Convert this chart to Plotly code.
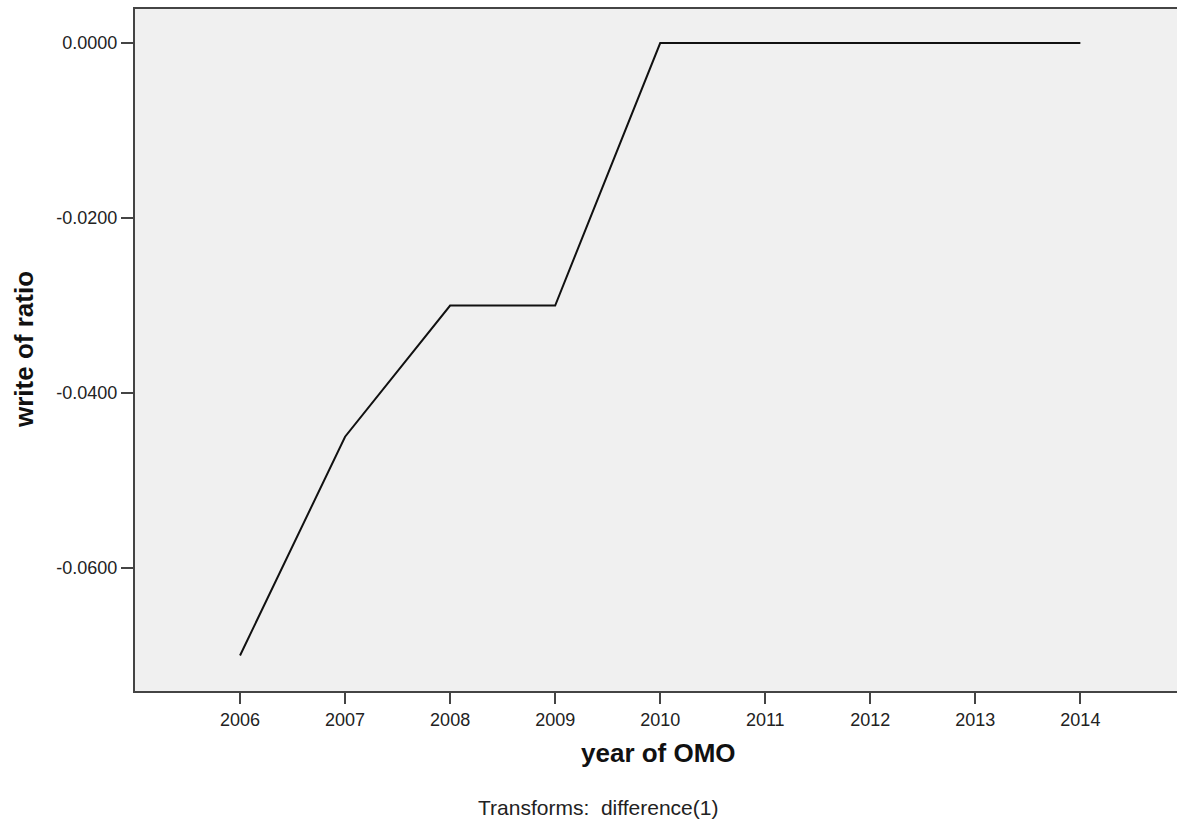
import plotly.graph_objects as go

# Differenced ratio series by year
years = [2006, 2007, 2008, 2009, 2010, 2011, 2012, 2013, 2014]
ratio_diff = [-0.0700, -0.0450, -0.0300, -0.0300, 0.0000, 0.0000, 0.0000, 0.0000, 0.0000]

y_tick_vals = [0.0, -0.02, -0.04, -0.06]
y_tick_text = ["0.0000", "-0.0200", "-0.0400", "-0.0600"]

W, H = 1177, 839
ML, MR, MT, MB = 135, 0, 9, 148
FONT = "Liberation Sans, Arial, sans-serif"

fig = go.Figure()
fig.add_trace(go.Scatter(
    x=years, y=ratio_diff, mode="lines",
    line=dict(color="#111111", width=2),
    hoverinfo="skip", showlegend=False,
))

plot_w = W - ML - MR
plot_h = H - MT - MB

fig.update_layout(
    width=W, height=H,
    margin=dict(l=ML, r=MR, t=MT, b=MB, pad=0),
    paper_bgcolor="white",
    plot_bgcolor="#F0F0F0",
    font=dict(family=FONT, color="#222222"),
    xaxis=dict(
        range=[2005, 2014.92],
        tickvals=years, ticktext=[str(y) for y in years],
        ticks="outside", ticklen=11, tickwidth=2, tickcolor="#444444",
        showline=True, linecolor="#444444", linewidth=2, mirror=True,
        showgrid=False, zeroline=False,
        tickfont=dict(size=18, family=FONT, color="#222222"),
    ),
    yaxis=dict(
        range=[-0.07406, 0.00389],
        tickvals=y_tick_vals, ticktext=y_tick_text,
        ticks="outside", ticklen=12, tickwidth=2, tickcolor="#444444",
        showline=True, linecolor="#444444", linewidth=2,
        showgrid=False, zeroline=False,
        tickfont=dict(size=18, family=FONT, color="#222222"),
    ),
    annotations=[
        dict(text="<b>year of OMO</b>", xref="paper", yref="paper",
             x=(658 - ML) / plot_w, y=-(753 - (MT + plot_h)) / plot_h,
             xanchor="center", yanchor="middle", showarrow=False,
             font=dict(size=26, family=FONT, color="#111111")),
        dict(text="<b>write of ratio</b>", xref="paper", yref="paper",
             x=(24 - ML) / plot_w, y=0.5, textangle=-90,
             xanchor="center", yanchor="middle", showarrow=False,
             font=dict(size=26, family=FONT, color="#111111")),
        dict(text="Transforms:  difference(1)", xref="paper", yref="paper",
             x=(598 - ML) / plot_w, y=-(807 - (MT + plot_h)) / plot_h,
             xanchor="center", yanchor="middle", showarrow=False,
             font=dict(size=21, family=FONT, color="#222222")),
    ],
)

fig.write_html("out.html")
